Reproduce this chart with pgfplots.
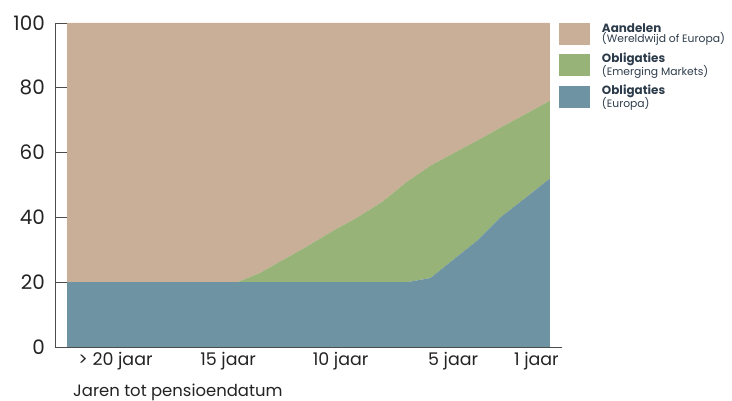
\documentclass[border=0pt]{standalone}
\usepackage{pgfplots}
\pgfplotsset{compat=1.18}
\usepackage{pgfplotstable}
\usepackage{fontspec}
\setmainfont{Poppins}

\definecolor{aand}{RGB}{201,175,151}
\definecolor{emer}{RGB}{151,179,120}
\definecolor{euro}{RGB}{110,148,163}
\definecolor{txt}{RGB}{35,35,35}
\definecolor{legtxt}{RGB}{45,60,75}

% x = -(jaren tot pensioendatum)
\pgfplotstableread{
x      euro  emer  aand
-22.15 20    0     80
-14.6  20    0     80
-13.6  20    2.8   77.2
-11.5  20    11    69
-10.3  20    16    64
-9.3   20    19.8  60.2
-8.15  20    24.8  55.2
-7.05  20    31    49
-6.0   21.3  34.7  44
-4.8   28    32.5  39.5
-3.9   33    30.8  36.2
-2.9   40    27.7  32.3
-1.75  46.2  25.8  28
-0.7   52    24    24
}\mix

\begin{document}
\begin{tikzpicture}
\useasboundingbox (-55bp,-54bp) rectangle (677bp,347bp);
\begin{axis}[
  at={(0,0)}, anchor=south west,
  scale only axis, width=507bp, height=324bp,
  xmin=-22.69, xmax=-0.16, ymin=0, ymax=100,
  stack plots=y,
  axis lines=left,
  axis line style={-, draw=black!70, line width=0.9bp},
  axis on top,
  tick align=inside,
  ytick={0,20,40,60,80,100},
  major tick length=12bp,
  tick style={draw=black!70, line width=0.9bp},
  xtick={-20,-15,-10,-5,-1.3},
  xticklabels={{\textgreater{} 20 jaar},{15 jaar},{10 jaar},{5 jaar},{1 jaar}},
  x tick style={draw=none},
  /pgf/number format/assume math mode=true,
  yticklabel style={font=\fontsize{20}{24}\selectfont, text=txt, inner sep=0pt, xshift=-10bp},
  xticklabel style={font=\fontsize{17.5}{20}\selectfont, text=txt, inner sep=0pt, yshift=-5bp},
  xlabel={Jaren tot pensioendatum},
  xlabel style={font=\fontsize{16.5}{19}\selectfont, text=txt, at={(axis description cs:0,0)}, anchor=base west, xshift=18bp, yshift=-49bp, inner sep=0pt},
  legend cell align=left,
  reverse legend,
  legend image code/.code={\fill[#1] (0bp,-11bp) rectangle (31bp,11bp);},
  legend style={draw=none, fill=none, at={(axis description cs:0.994,1)}, anchor=north west,
    inner sep=0pt, outer sep=0pt, row sep=8bp, column sep=12bp,
    nodes={inner sep=0pt, align=left, text=legtxt}},
]
\addplot[fill=euro, draw=none] table[x=x, y=euro]{\mix} \closedcycle;
\addlegendentry{{\fontsize{12}{13}\selectfont\bfseries Obligaties}\\[-1.5bp]{\fontsize{10.8}{12}\selectfont (Europa)}}
\addplot[fill=emer, draw=none] table[x=x, y=emer]{\mix} \closedcycle;
\addlegendentry{{\fontsize{12}{13}\selectfont\bfseries Obligaties}\\[-1.5bp]{\fontsize{10.8}{12}\selectfont (Emerging Markets)}}
\addplot[fill=aand, draw=none] table[x=x, y=aand]{\mix} \closedcycle;
\addlegendentry{{\fontsize{12}{13}\selectfont\bfseries Aandelen}\\[-1.5bp]{\fontsize{10.8}{12}\selectfont (Wereldwijd of Europa)}}
\draw[draw=black!70, line width=0.9bp] (axis cs:-0.16,0) -- ++(0,8bp);
\end{axis}
\end{tikzpicture}
\end{document}
